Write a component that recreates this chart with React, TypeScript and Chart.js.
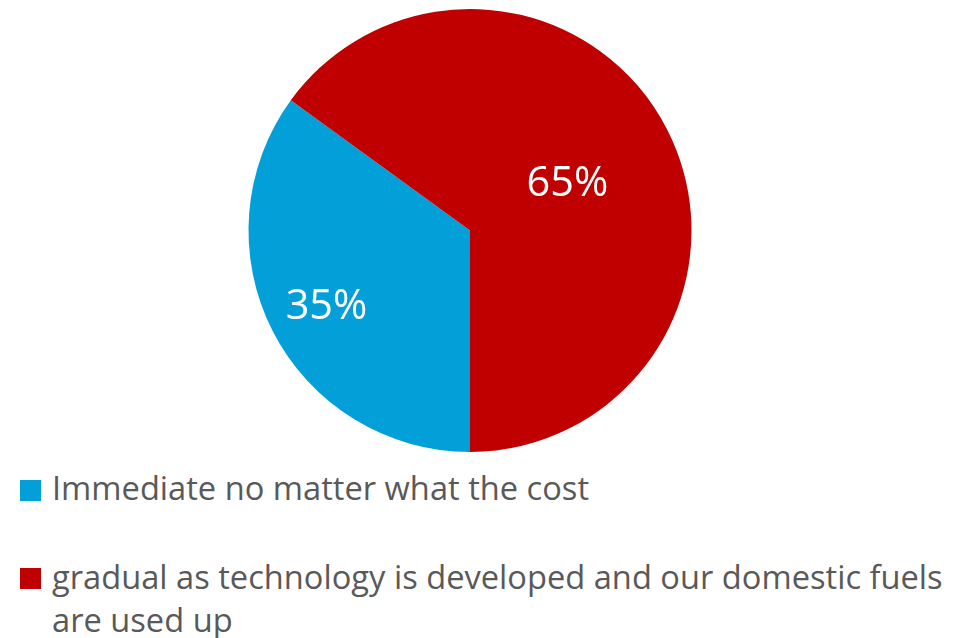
import React, { useEffect, useRef } from "react";
import { Chart, registerables } from "chart.js";

Chart.register(...registerables);

const categories = [
  "Immediate no matter what the cost",
  "gradual as technology is developed and our domestic fuels are used up",
];
const values = [35, 65];
const labels = ["35%", "65%"];
const colors = ["#039FD9", "#C00000"];
const labelRadius = [0.727, 0.494];

const sliceLabelPlugin = {
  id: "sliceLabels",
  afterDatasetsDraw(chart: any) {
    const ctx = chart.ctx;
    const meta = chart.getDatasetMeta(0);
    ctx.save();
    ctx.fillStyle = "#FFFFFF";
    ctx.font = "41.5px 'Open Sans'";
    ctx.textAlign = "center";
    ctx.textBaseline = "alphabetic";
    meta.data.forEach((arc: any, i: number) => {
      const { x, y, startAngle, endAngle, outerRadius } = arc.getProps(
        ["x", "y", "startAngle", "endAngle", "outerRadius"],
        true
      );
      const mid = (startAngle + endAngle) / 2;
      const r = outerRadius * labelRadius[i];
      ctx.fillText(labels[i], x + Math.cos(mid) * r, y + Math.sin(mid) * r + 15.5);
    });
    ctx.restore();
  },
};

export default function App() {
  const ref = useRef<HTMLCanvasElement>(null);
  useEffect(() => {
    if (!ref.current) return;
    const chart = new Chart(ref.current, {
      type: "pie",
      data: {
        labels: categories,
        datasets: [
          {
            data: values,
            backgroundColor: colors,
            borderWidth: 0,
          },
        ],
      },
      options: {
        animation: false,
        responsive: false,
        rotation: 180,
        layout: { padding: { top: 9, bottom: 9, left: 0, right: 24 } },
        plugins: {
          legend: { display: false },
          tooltip: { enabled: false },
        },
      },
      plugins: [sliceLabelPlugin],
    });
    return () => chart.destroy();
  }, []);

  const textStyle: React.CSSProperties = {
    position: "absolute",
    left: 52,
    fontFamily: "'Open Sans', sans-serif",
    fontSize: 32,
    lineHeight: "43px",
    color: "#595959",
    whiteSpace: "nowrap",
    transformOrigin: "left top",
    transform: "scaleX(1.02)",
  };

  return (
    <div
      style={{
        position: "absolute",
        left: 0,
        top: 0,
        width: 964,
        height: 638,
        background: "#fff",
        overflow: "hidden",
      }}
    >
      <canvas ref={ref} width={964} height={461} style={{ display: "block" }} />
      <div style={{ position: "absolute", left: 20, top: 480, width: 21, height: 21, background: colors[0] }} />
      <div style={{ ...textStyle, top: 465.5 }}>{categories[0]}</div>
      <div style={{ position: "absolute", left: 20, top: 568, width: 21, height: 21, background: colors[1] }} />
      <div style={{ ...textStyle, top: 554.5 }}>
        gradual as technology is developed and our domestic fuels
        <br />
        are used up
      </div>
    </div>
  );
}
